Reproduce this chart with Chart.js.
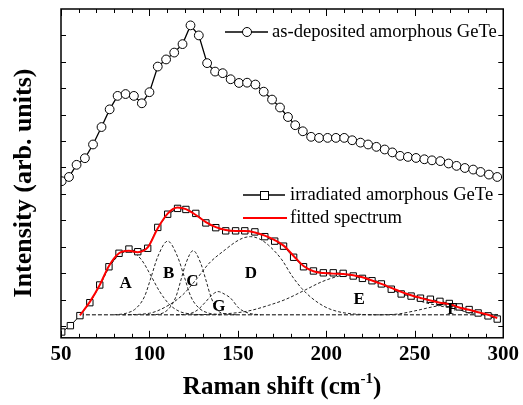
<!DOCTYPE html>
<html>
<head>
<meta charset="utf-8">
<script src="https://cdn.jsdelivr.net/npm/chart.js@4.4.1/dist/chart.umd.min.js"></script>
<style>
  html, body { margin: 0; padding: 0; background: #fff; }
</style>
</head>
<body>
<canvas id="ramanChart" width="523" height="405"></canvas>
<script>
// as-deposited amorphous GeTe (open circles)
const asDepShift = [50.4, 54.5, 58.8, 63.5, 68.1, 72.9, 77.5, 82.0, 86.5, 91.2, 95.7, 100.0, 104.7, 109.4, 114.0,
  118.7, 123.2, 127.9, 132.6, 137.1, 141.4, 145.9, 150.6, 155.2, 159.9, 164.6, 169.3, 173.8, 178.3, 182.4,
  186.7, 191.4, 195.9, 200.7, 205.4, 210.1, 214.6, 219.3, 223.6, 228.3, 233.0, 237.3, 241.7, 246.1, 250.7,
  255.4, 259.7, 264.4, 269.1, 273.6, 278.3, 283.0, 287.2, 291.9, 296.6];
const asDepInt = [5.48, 5.64, 6.10, 6.35, 6.87, 7.53, 8.20, 8.71, 8.78, 8.71, 8.43, 8.85, 9.82, 10.09, 10.35,
  10.67, 11.38, 11.00, 9.95, 9.63, 9.57, 9.34, 9.20, 9.21, 9.14, 8.87, 8.57, 8.27, 7.91, 7.60,
  7.37, 7.16, 7.12, 7.12, 7.12, 7.12, 7.03, 6.94, 6.87, 6.78, 6.68, 6.57, 6.44, 6.40, 6.36,
  6.31, 6.27, 6.24, 6.15, 6.06, 5.98, 5.92, 5.83, 5.73, 5.64];

// irradiated amorphous GeTe (open squares)
const irrShift = [50.4, 55.3, 60.7, 66.3, 71.9, 77.1, 82.8, 88.4, 93.4, 99.0, 104.7, 110.3, 115.9, 120.6, 126.2,
  131.9, 137.5, 143.1, 148.7, 153.9, 159.6, 165.2, 170.8, 175.8, 181.5, 187.1, 192.7, 198.3, 203.9, 209.5,
  215.2, 220.4, 225.8, 231.1, 236.7, 242.3, 247.9, 253.2, 258.8, 264.2, 269.5, 275.1, 280.7, 285.8, 291.4, 296.6];
const irrInt = [-0.23, 0.01, 0.39, 0.88, 1.55, 2.24, 2.75, 2.91, 2.81, 2.94, 3.73, 4.23, 4.45, 4.41, 4.26,
  3.90, 3.72, 3.60, 3.60, 3.60, 3.56, 3.38, 3.21, 3.02, 2.60, 2.24, 2.08, 2.01, 2.01, 1.99,
  1.89, 1.80, 1.71, 1.59, 1.39, 1.21, 1.13, 1.05, 1.01, 0.93, 0.85, 0.72, 0.62, 0.49, 0.38, 0.26];

// fitted spectrum (red)
const fitShift = [60.7, 66.3, 71.9, 77.1, 82.8, 88.4, 93.4, 99.0, 104.7, 110.3, 115.9, 120.6, 126.2, 131.9, 137.5,
  143.1, 148.7, 153.9, 159.6, 165.2, 170.8, 175.8, 181.5, 187.1, 192.7, 198.3, 203.9, 209.5, 215.2, 220.4,
  225.8, 231.1, 236.7, 242.3, 247.9, 253.2, 258.8, 264.2, 269.5, 275.1, 280.7, 285.8, 291.4, 296.6];
const fitInt = [0.40, 0.91, 1.55, 2.27, 2.75, 2.85, 2.79, 2.97, 3.70, 4.25, 4.48, 4.42, 4.20, 3.93, 3.74,
  3.63, 3.59, 3.59, 3.54, 3.42, 3.25, 3.04, 2.65, 2.27, 2.07, 2.00, 1.98, 1.97, 1.92, 1.84,
  1.72, 1.59, 1.44, 1.29, 1.16, 1.06, 0.96, 0.88, 0.83, 0.70, 0.61, 0.52, 0.42, 0.30];

// fitted components (dashed)
const peakA_x = [60.7, 66.3, 71.9, 77.1, 82.8, 89.0, 95.3, 101.0, 105.6, 111.2, 116.9, 122.5, 130.0];
const peakA_y = [0.42, 0.90, 1.52, 2.20, 2.68, 2.84, 2.52, 1.88, 1.32, 0.82, 0.55, 0.46, 0.42];
const peakB_x = [80.0, 86.9, 92.5, 97.2, 101.0, 104.7, 110.3, 115.9, 119.7, 123.4, 128.1, 133.7, 140.0];
const peakB_y = [0.42, 0.48, 0.67, 1.11, 1.86, 2.62, 3.21, 2.62, 1.86, 1.11, 0.67, 0.48, 0.42];
const peakC_x = [98.0, 105.0, 111.2, 115.0, 117.8, 120.6, 124.7, 129.0, 131.9, 134.7, 138.4, 144.0, 150.0];
const peakC_y = [0.42, 0.44, 0.67, 1.11, 1.74, 2.37, 2.85, 2.37, 1.74, 1.11, 0.60, 0.45, 0.42];
const peakG_x = [115.0, 122.5, 127.1, 131.9, 135.0, 138.8, 142.5, 145.9, 150.6, 156.2, 163.0];
const peakG_y = [0.42, 0.46, 0.60, 0.92, 1.15, 1.30, 1.20, 1.05, 0.67, 0.48, 0.42];
const peakD_x = [85.0, 100.0, 109.4, 118.7, 126.2, 133.7, 143.1, 148.7, 153.0, 157.1, 162.0, 167.4, 174.9, 180.5,
  186.1, 191.7, 199.3, 206.7, 214.2, 222.0, 230.0];
const peakD_y = [0.42, 0.48, 0.73, 1.17, 1.74, 2.37, 2.90, 3.18, 3.33, 3.38, 3.30, 3.05, 2.50, 1.90,
  1.42, 1.06, 0.72, 0.54, 0.46, 0.43, 0.42];
const peakE_x = [125.0, 145.0, 156.2, 167.4, 176.8, 188.0, 197.4, 206.7, 211.0, 218.0, 225.0, 232.0, 240.0, 248.0,
  256.0, 264.0, 272.0, 280.0, 288.0, 297.0];
const peakE_y = [0.42, 0.47, 0.57, 0.78, 1.00, 1.36, 1.67, 1.88, 1.93, 1.90, 1.78, 1.60, 1.32, 1.06,
  0.88, 0.76, 0.66, 0.54, 0.46, 0.43];
const peakF_x = [230.0, 240.4, 250.0, 260.0, 265.0, 269.5, 275.1, 282.6, 288.0, 295.0];
const peakF_y = [0.42, 0.45, 0.57, 0.72, 0.78, 0.81, 0.62, 0.46, 0.43, 0.42];
const baseX = [60.7, 297.0];
const baseY = [0.42, 0.42];

// peak letters: [label, shift, intensity]
const peakLabels = [['A', 86.5, 1.59], ['B', 110.8, 1.97], ['C', 124.3, 1.66], ['D', 157.3, 1.97],
  ['E', 218.5, 0.98], ['G', 139.3, 0.72], ['F', 271.3, 0.60]];

const xMajorTicks = [50, 100, 150, 200, 250, 300];
const yTicks = [0, 1, 2, 3, 4, 5, 6, 7, 8, 9, 10, 11];

function pts(xs, ys) {
    return xs.map((x, i) => ({ x: x, y: ys[i] }));
}

function dashed(xs, ys) {
    return {
        data: pts(xs, ys),
        borderColor: '#222',
        borderWidth: 1,
        borderDash: [3, 2],
        pointRadius: 0,
        cubicInterpolationMode: 'monotone',
        fill: false
    };
}

const serif = '"Liberation Serif", "Times New Roman", serif';

const decorations = {
    id: 'decorations',
    afterDatasetsDraw(chart) {
        const { ctx, chartArea: a, scales: { x, y } } = chart;
        ctx.save();

        // frame + inward ticks
        ctx.strokeStyle = '#000';
        ctx.lineWidth = 1;
        for (let v = 50; v <= 300; v += 10) {
            const px = Math.round(x.getPixelForValue(v)) + 0.5;
            const len = xMajorTicks.includes(v) ? 7 : 4;
            ctx.beginPath();
            ctx.moveTo(px, a.bottom); ctx.lineTo(px, a.bottom - len);
            ctx.moveTo(px, a.top); ctx.lineTo(px, a.top + len);
            ctx.stroke();
        }
        yTicks.forEach(v => {
            const py = Math.round(y.getPixelForValue(v)) + 0.5;
            ctx.beginPath();
            ctx.moveTo(a.left, py); ctx.lineTo(a.left + 5, py);
            ctx.moveTo(a.right, py); ctx.lineTo(a.right - 5, py);
            ctx.stroke();
        });
        ctx.lineWidth = 1.5;
        ctx.strokeRect(a.left, a.top, a.right - a.left, a.bottom - a.top);

        // peak letters
        ctx.fillStyle = '#000';
        ctx.font = 'bold 17px ' + serif;
        ctx.textAlign = 'center';
        ctx.textBaseline = 'middle';
        peakLabels.forEach(([t, sx, sy]) => {
            ctx.fillText(t, x.getPixelForValue(sx), y.getPixelForValue(sy));
        });

        // legends
        ctx.font = '18.6px ' + serif;
        ctx.textAlign = 'left';
        ctx.lineWidth = 1.3;
        ctx.strokeStyle = '#000';
        ctx.beginPath(); ctx.moveTo(225, 32); ctx.lineTo(268, 32); ctx.stroke();
        ctx.beginPath(); ctx.arc(247, 32, 4.5, 0, Math.PI * 2);
        ctx.fillStyle = '#fff'; ctx.fill(); ctx.lineWidth = 1; ctx.stroke();
        ctx.fillStyle = '#000';
        ctx.fillText('as-deposited amorphous GeTe', 272, 32);

        ctx.lineWidth = 1.3;
        ctx.beginPath(); ctx.moveTo(243, 195); ctx.lineTo(285, 195); ctx.stroke();
        ctx.fillStyle = '#fff'; ctx.lineWidth = 1;
        ctx.fillRect(260, 191, 8, 8); ctx.strokeRect(260.5, 191.5, 8, 8);
        ctx.fillStyle = '#000';
        ctx.fillText('irradiated amorphous GeTe', 290, 195);

        ctx.strokeStyle = '#ff0000'; ctx.lineWidth = 2;
        ctx.beginPath(); ctx.moveTo(243, 218); ctx.lineTo(287, 218); ctx.stroke();
        ctx.fillText('fitted spectrum', 290, 218);

        // axis titles
        ctx.font = 'bold 25px ' + serif;
        ctx.textBaseline = 'alphabetic';
        const main = 'Raman shift (cm';
        const sup = '-1';
        const close = ')';
        const wMain = ctx.measureText(main).width;
        const wClose = ctx.measureText(close).width;
        ctx.font = 'bold 15px ' + serif;
        const wSup = ctx.measureText(sup).width;
        let tx = (a.left + a.right) / 2 - (wMain + wSup + wClose) / 2;
        ctx.font = 'bold 25px ' + serif;
        ctx.fillText(main, tx, 394);
        tx += wMain;
        ctx.font = 'bold 15px ' + serif;
        ctx.fillText(sup, tx, 383);
        tx += wSup;
        ctx.font = 'bold 25px ' + serif;
        ctx.fillText(close, tx, 394);

        ctx.font = 'bold 26px ' + serif;
        ctx.translate(24, 183);
        ctx.rotate(-Math.PI / 2);
        ctx.textAlign = 'center';
        ctx.textBaseline = 'middle';
        ctx.fillText('Intensity (arb. units)', 0, 0);
        ctx.restore();
    }
};

new Chart(document.getElementById('ramanChart').getContext('2d'), {
    type: 'line',
    data: {
        datasets: [
            {
                label: 'fitted spectrum',
                data: pts(fitShift, fitInt),
                borderColor: '#ff0000',
                borderWidth: 2,
                pointRadius: 0,
                cubicInterpolationMode: 'monotone'
            },
            {
                label: 'irradiated amorphous GeTe',
                data: pts(irrShift, irrInt),
                borderColor: '#000',
                borderWidth: 1,
                pointStyle: 'rect',
                pointRadius: 4.5,
                pointBorderWidth: 1,
                pointBackgroundColor: '#fff',
                pointBorderColor: '#000',
                tension: 0
            },
            {
                label: 'as-deposited amorphous GeTe',
                data: pts(asDepShift, asDepInt),
                borderColor: '#000',
                borderWidth: 1.3,
                pointStyle: 'circle',
                pointRadius: 4.4,
                pointBorderWidth: 1,
                pointBackgroundColor: '#fff',
                pointBorderColor: '#000',
                tension: 0
            },
            dashed(peakA_x, peakA_y),
            dashed(peakB_x, peakB_y),
            dashed(peakC_x, peakC_y),
            dashed(peakG_x, peakG_y),
            dashed(peakD_x, peakD_y),
            dashed(peakE_x, peakE_y),
            dashed(peakF_x, peakF_y),
            Object.assign(dashed(baseX, baseY), { borderDash: [4, 2], borderColor: '#000' })
        ]
    },
    options: {
        responsive: false,
        animation: false,
        devicePixelRatio: 1,
        layout: { padding: { left: 61, top: 9, right: 17, bottom: 34 } },
        plugins: { legend: { display: false }, tooltip: { enabled: false } },
        scales: {
            x: {
                type: 'linear',
                min: 50,
                max: 300,
                grid: { display: false, drawTicks: false },
                border: { display: false },
                ticks: {
                    stepSize: 50,
                    padding: 4,
                    maxRotation: 0,
                    color: '#000',
                    font: { family: serif, size: 21, weight: 'bold' }
                }
            },
            y: {
                display: false,
                min: -0.45,
                max: 12
            }
        }
    },
    plugins: [decorations]
});
</script>
</body>
</html>
